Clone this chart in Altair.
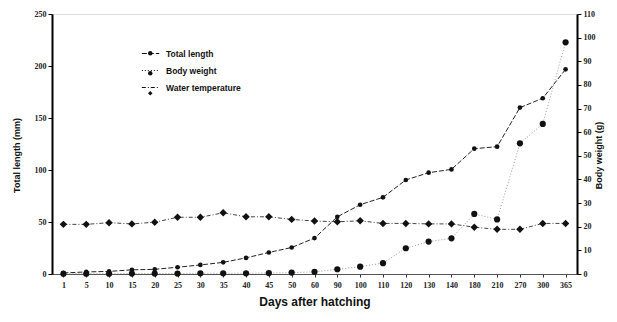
import altair as alt
import pandas as pd

days = ["1", "5", "10", "15", "20", "25", "30", "35", "40", "45", "50", "60",
        "90", "100", "110", "120", "130", "140", "180", "210", "270", "300", "365"]
total_length = [1.0, 2.0, 2.5, 4.0, 4.5, 6.5, 8.7, 11.2, 15.5, 20.7, 25.5, 34.5,
                55.0, 66.6, 73.7, 90.4, 97.4, 100.6, 120.5, 122.4, 160.0, 169.0, 196.8]
body_weight = [0.1, 0.1, 0.1, 0.2, 0.2, 0.2, 0.3, 0.3, 0.3, 0.4, 0.6, 0.9,
               2.0, 3.1, 4.6, 10.9, 13.7, 15.1, 25.4, 23.1, 55.3, 63.5, 98.0]
water_temp = [21.0, 21.0, 21.7, 21.2, 21.9, 24.0, 24.0, 25.9, 24.2, 24.2, 23.1, 22.4,
              22.1, 22.5, 21.4, 21.4, 21.2, 21.2, 19.8, 18.9, 18.9, 21.4, 21.4]
series = ["Total length", "Body weight", "Water temperature"]
series_marker = [s + " " for s in series]
series_style = [s + "  " for s in series]

rows = []
for name, mk, st, vals in zip(series, series_marker, series_style,
                              [total_length, body_weight, water_temp]):
    for d, v in zip(days, vals):
        rows.append({"day": d, "value": v, "series": name, "series_s": mk, "series_c": st})
df = pd.DataFrame(rows)

x_enc = alt.X("day:N", sort=days, title="Days after hatching",
              axis=alt.Axis(labelAngle=0, labelFont="Liberation Serif", labelFontSize=8,
                            labelFontWeight="bold", labelColor="#222", tickSize=3,
                            tickColor="#333", domainColor="#555", domainWidth=1,
                            labelPadding=4, titleFont="Liberation Sans", titleFontSize=12,
                            titleFontWeight="bold", titlePadding=7, titleColor="#111"))

dash = alt.StrokeDash("series:N", scale=alt.Scale(domain=series,
                                                 range=[[5, 2], [1, 2], [4, 2, 1, 2]]),
                      legend=alt.Legend(orient="none", legendX=89, legendY=30, title=None,
                                        symbolType="stroke", symbolSize=300,
                                        symbolStrokeWidth=1.2, symbolStrokeColor="#111",
                                        labelFont="Liberation Sans", labelFontSize=8.5,
                                        labelFontWeight="bold", labelColor="#111",
                                        rowPadding=3, labelOffset=6))
col = alt.Color("series_c:N", scale=alt.Scale(domain=series_style,
                                              range=["#222", "#9a9a9a", "#444"]),
                legend=None)
shape = alt.Shape("series_s:N", scale=alt.Scale(domain=series_marker,
                                                range=["circle", "circle", "diamond"]),
                  legend=alt.Legend(orient="none", legendX=94, legendY=35, title=None,
                                    symbolSize=20, symbolFillColor="#111", symbolStrokeColor="#111",
                                    labelExpr="''", labelFontSize=8.5, rowPadding=9,
                                    labelOffset=0))
size = alt.Size("series_c:N", scale=alt.Scale(domain=series_style, range=[22, 55, 28]),
                legend=None)

left_axis = alt.Axis(values=[0, 50, 100, 150, 200, 250], domainColor="#000", domainWidth=2,
                     tickColor="#000", tickSize=4, labelFont="Liberation Serif", labelFontSize=8,
                     labelFontWeight="bold", labelColor="#222", grid=False,
                     title="Total length (mm)", titleFont="Liberation Sans", titleFontSize=9,
                     titleFontWeight="bold", titleColor="#111", titlePadding=13, titleY=141)
right_axis = alt.Axis(values=list(range(0, 111, 10)), domainColor="#000", domainWidth=2,
                      tickColor="#000", tickSize=4, labelFont="Liberation Serif", labelFontSize=8,
                      labelFontWeight="bold", labelColor="#222", grid=False, orient="right",
                      title="Body weight (g)", titleFont="Liberation Sans", titleFontSize=9,
                      titleFontWeight="bold", titleColor="#111", titlePadding=8, titleAngle=-90,
                      titleY=141)

base_l = alt.Chart(df).transform_filter(alt.datum.series == "Total length")
y_l = alt.Y("value:Q", scale=alt.Scale(domain=[0, 250]), axis=left_axis)
left = alt.layer(
    base_l.mark_line(strokeWidth=1).encode(x=x_enc, y=y_l, strokeDash=dash, color=col),
    base_l.mark_point(filled=True, opacity=1, color="#111").encode(x=x_enc, y=y_l, shape=shape, size=size),
)

base_r = alt.Chart(df).transform_filter(alt.datum.series != "Total length")
y_r = alt.Y("value:Q", scale=alt.Scale(domain=[0, 110]), axis=right_axis)
right = alt.layer(
    base_r.mark_line(strokeWidth=1).encode(x=x_enc, y=y_r, strokeDash=dash, color=col),
    base_r.mark_point(filled=True, opacity=1, color="#111").encode(x=x_enc, y=y_r, shape=shape, size=size),
)

chart = alt.layer(left, right).resolve_scale(y="independent").properties(
    width=525, height=260,
    autosize=alt.AutoSizeParams(type="none"),
    padding={"left": 44, "top": 6, "right": 32, "bottom": 42},
).configure_view(stroke=None).configure(background="white")

chart.save("out.html", embed_options={"renderer": "svg", "actions": False})
